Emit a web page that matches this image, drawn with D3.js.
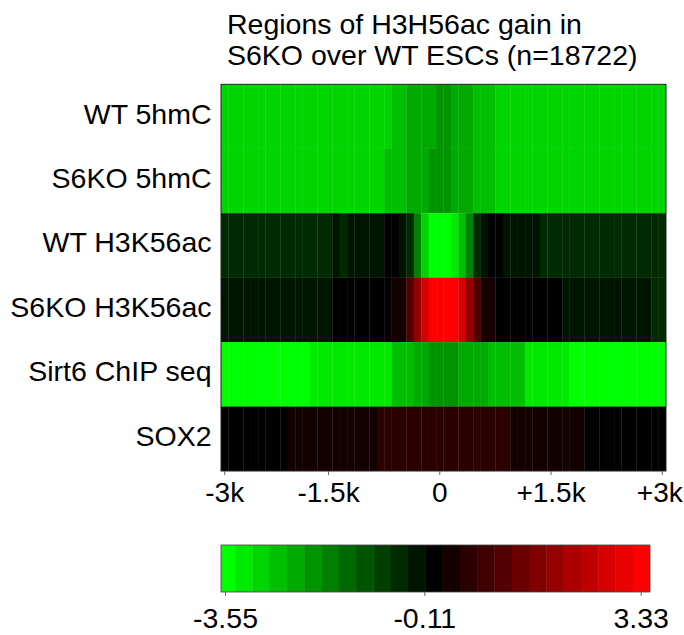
<!DOCTYPE html>
<html>
<head>
<meta charset="utf-8">
<script src="https://cdn.jsdelivr.net/npm/d3@7"></script>
<style>
  body { margin: 0; background: #fff; }
  svg { display: block; }
  text { font-family: "Liberation Sans", Arial, Helvetica, sans-serif; fill: #000; }
</style>
</head>
<body>
<svg id="chart" width="684" height="635"></svg>
<script>
// ---------------- data ----------------
const titleLines = ["Regions of H3H56ac gain in", "S6KO over WT ESCs (n=18722)"];
const rowLabels = ["WT 5hmC", "S6KO 5hmC", "WT H3K56ac", "S6KO H3K56ac", "Sirt6 ChIP seq", "SOX2"];
const xTickBins = [0, 14, 29, 44, 59];
const xTickLabels = ["-3k", "-1.5k", "0", "+1.5k", "+3k"];
const keyMin = -3.55, keyMax = 3.33, nColors = 25;
const keyTickValues = [-3.55, -0.11, 3.33];
const keyTickLabels = ["-3.55", "-0.11", "3.33"];

// 60 bins from -3kb to +3kb around region centre (log2 enrichment)
const wt5hmC = [
  -2.86,-2.85,-2.87,-2.86,-2.88,-2.85,-2.86,-2.84,-2.87,-2.86,
  -2.85,-2.87,-2.86,-2.84,-2.85,-2.86,-2.83,-2.85,-2.84,-2.82,
  -2.80,-2.79,-2.76,-2.66,-2.58,-2.40,-2.33,-2.28,-2.22,-2.10,
  -2.06,-2.20,-2.30,-2.38,-2.52,-2.60,-2.70,-2.78,-2.80,-2.82,
  -2.84,-2.85,-2.84,-2.86,-2.87,-2.85,-2.86,-2.87,-2.86,-2.85,
  -2.86,-2.88,-2.86,-2.85,-2.87,-2.86,-2.86,-2.85,-2.87,-2.86
];
const s6ko5hmC = [
  -2.88,-2.87,-2.88,-2.86,-2.87,-2.88,-2.86,-2.87,-2.85,-2.86,
  -2.86,-2.85,-2.87,-2.84,-2.85,-2.83,-2.84,-2.82,-2.81,-2.80,
  -2.78,-2.76,-2.70,-2.62,-2.55,-2.42,-2.35,-2.25,-2.15,-2.08,
  -2.05,-2.22,-2.32,-2.40,-2.55,-2.62,-2.70,-2.77,-2.80,-2.82,
  -2.83,-2.84,-2.86,-2.85,-2.87,-2.86,-2.88,-2.86,-2.87,-2.86,
  -2.88,-2.87,-2.86,-2.88,-2.87,-2.86,-2.88,-2.87,-2.86,-2.87
];
const wtH3K56ac = [
  -0.64,-0.65,-0.66,-0.64,-0.65,-0.63,-0.62,-0.64,-0.63,-0.61,
  -0.60,-0.62,-0.60,-0.58,-0.56,-0.45,-0.55,-0.42,-0.40,-0.38,
  -0.36,-0.30,-0.15,-0.20,-0.35,-0.58,-1.72,-2.80,-3.35,-3.45,
  -3.40,-3.10,-2.60,-1.75,-0.62,-0.40,-0.20,-0.15,-0.30,-0.35,
  -0.40,-0.45,-0.50,-0.56,-0.60,-0.62,-0.63,-0.65,-0.64,-0.66,
  -0.65,-0.67,-0.66,-0.65,-0.67,-0.66,-0.68,-0.66,-0.67,-0.68
];
const s6koH3K56ac = [
  -0.38,-0.40,-0.39,-0.41,-0.38,-0.37,-0.36,-0.35,-0.34,-0.33,
  -0.32,-0.32,-0.30,-0.29,-0.28,-0.20,-0.15,-0.12,-0.08,-0.05,
  -0.02, 0.00, 0.02, 0.10, 0.25, 0.95, 1.80, 2.62, 3.15, 3.22,
   3.25, 3.10, 2.60, 1.75, 0.95, 0.28, 0.12, 0.01,-0.03,-0.08,
  -0.12,-0.15,-0.18,-0.20,-0.22,-0.24,-0.26,-0.28,-0.30,-0.32,
  -0.34,-0.35,-0.37,-0.38,-0.40,-0.42,-0.44,-0.48,-0.55,-0.60
];
const sirt6ChIP = [
  -3.40,-3.42,-3.38,-3.36,-3.35,-3.34,-3.33,-3.32,-3.31,-3.30,
  -3.30,-3.28,-3.20,-3.18,-3.16,-3.15,-3.12,-3.10,-3.08,-3.06,
  -3.04,-3.02,-3.01,-2.70,-2.62,-2.52,-2.40,-2.25,-2.10,-2.05,
  -2.00,-2.02,-2.20,-2.26,-2.32,-2.40,-2.55,-2.60,-2.65,-2.68,
  -2.70,-3.02,-3.05,-3.10,-3.14,-3.18,-3.22,-3.30,-3.34,-3.36,
  -3.38,-3.40,-3.41,-3.42,-3.41,-3.43,-3.42,-3.40,-3.41,-3.42
];
const sox2 = [
  -0.15,-0.14,-0.12,-0.10,-0.08,-0.06,-0.04,-0.02, 0.00, 0.05,
   0.08, 0.10, 0.12, 0.14, 0.16, 0.18, 0.20, 0.22, 0.24, 0.26,
   0.28, 0.32, 0.36, 0.40, 0.44, 0.47, 0.50, 0.52, 0.54, 0.55,
   0.55, 0.54, 0.52, 0.50, 0.48, 0.44, 0.40, 0.36, 0.32, 0.29,
   0.26, 0.24, 0.22, 0.20, 0.17, 0.14, 0.10, 0.07, 0.04, 0.00,
  -0.03,-0.05,-0.07,-0.09,-0.10,-0.12,-0.13,-0.14,-0.15,-0.16
];
const rowValues = [wt5hmC, s6ko5hmC, wtH3K56ac, s6koH3K56ac, sirt6ChIP, sox2];

// ---------------- layout ----------------
const svg = d3.select("#chart");
const FS = 28.5;
const hm = { x0: 221, x1: 666, y0: 84.3, y1: 471 };
const key = { x0: 221, x1: 650, y0: 545, y1: 592 };

// green-black-red palette (25 steps)
const palette = d3.range(nColors).map(i => {
  const half = (nColors - 1) / 2;
  if (i < half) return d3.rgb(0, Math.round(255 * (half - i) / half), 0).formatHex();
  if (i === half) return "#000000";
  return d3.rgb(Math.round(255 * (i - half) / half), 0, 0).formatHex();
});
const color = d3.scaleQuantize().domain([keyMin, keyMax]).range(palette);

const x = d3.scaleBand().domain(d3.range(wt5hmC.length)).range([hm.x0, hm.x1]).padding(0);
const y = d3.scaleBand().domain(rowLabels).range([hm.y0, hm.y1]).padding(0);

// title
svg.append("g").selectAll("text").data(titleLines).join("text")
  .attr("x", 227)
  .attr("y", (d, i) => 33.5 + i * 31.5)
  .attr("font-size", FS)
  .text(d => d);

// heatmap cells
const cells = svg.append("g");
rowValues.forEach((vals, r) => {
  cells.append("g").selectAll("rect").data(vals).join("rect")
    .attr("x", (d, i) => x(i))
    .attr("y", y(rowLabels[r]))
    .attr("width", (d, i) => x.bandwidth() + (i < vals.length - 1 ? 0.3 : 0))
    .attr("height", y.bandwidth() + (r < rowValues.length - 1 ? 0.2 : 0))
    .attr("fill", d => color(d));
});

// border
svg.append("rect")
  .attr("x", hm.x0).attr("y", hm.y0)
  .attr("width", hm.x1 - hm.x0).attr("height", hm.y1 - hm.y0)
  .attr("fill", "none").attr("stroke", "#222").attr("stroke-width", 1);

// row labels
svg.append("g").selectAll("text").data(rowLabels).join("text")
  .attr("x", 211.5)
  .attr("y", d => y(d) + y.bandwidth() / 2 + 7)
  .attr("text-anchor", "end")
  .attr("font-size", FS)
  .text(d => d);

// x axis
const xAxis = svg.append("g")
  .attr("transform", `translate(0,${hm.y1})`)
  .call(d3.axisBottom(x).tickValues(xTickBins).tickFormat((d, i) => xTickLabels[i]).tickSize(4).tickSizeOuter(0));
xAxis.select(".domain").remove();
xAxis.selectAll(".tick line").attr("stroke", "#666");
xAxis.selectAll(".tick text")
  .attr("y", 30.7).attr("dy", null)
  .attr("dx", (d, i) => i === xTickBins.length - 1 ? -2.5 : 0)
  .attr("font-size", 28).attr("fill", "#000");
xAxis.attr("font-family", null).attr("font-size", null);

// colour key
const keyBand = d3.scaleBand().domain(d3.range(nColors)).range([key.x0 - 3.3, key.x1]);
svg.append("defs").append("clipPath").attr("id", "keyclip")
  .append("rect").attr("x", key.x0).attr("y", key.y0).attr("width", key.x1 - key.x0).attr("height", key.y1 - key.y0);
svg.append("g").attr("clip-path", "url(#keyclip)")
  .selectAll("rect").data(palette).join("rect")
  .attr("x", (d, i) => keyBand(i))
  .attr("y", key.y0)
  .attr("width", keyBand.bandwidth() + 0.4)
  .attr("height", key.y1 - key.y0)
  .attr("fill", d => d);
svg.append("rect")
  .attr("x", key.x0).attr("y", key.y0)
  .attr("width", key.x1 - key.x0).attr("height", key.y1 - key.y0)
  .attr("fill", "none").attr("stroke", "#444").attr("stroke-width", 0.8);

// key ticks (positions as drawn in original key)
const keyTick = d3.scaleLinear().domain(keyTickValues).range([key.x0 + 4, key.x0 + 203.3, key.x0 + 419.7]);
const keyAxis = svg.append("g")
  .attr("transform", `translate(0,${key.y1})`)
  .call(d3.axisBottom(keyTick).tickValues(keyTickValues).tickFormat((d, i) => keyTickLabels[i]).tickSize(4).tickSizeOuter(0));
keyAxis.select(".domain").remove();
keyAxis.selectAll(".tick line").attr("stroke", "#666");
keyAxis.selectAll(".tick text")
  .attr("y", 36).attr("dy", null)
  .attr("font-size", FS).attr("fill", "#000");
keyAxis.attr("font-family", null).attr("font-size", null);
</script>
</body>
</html>
